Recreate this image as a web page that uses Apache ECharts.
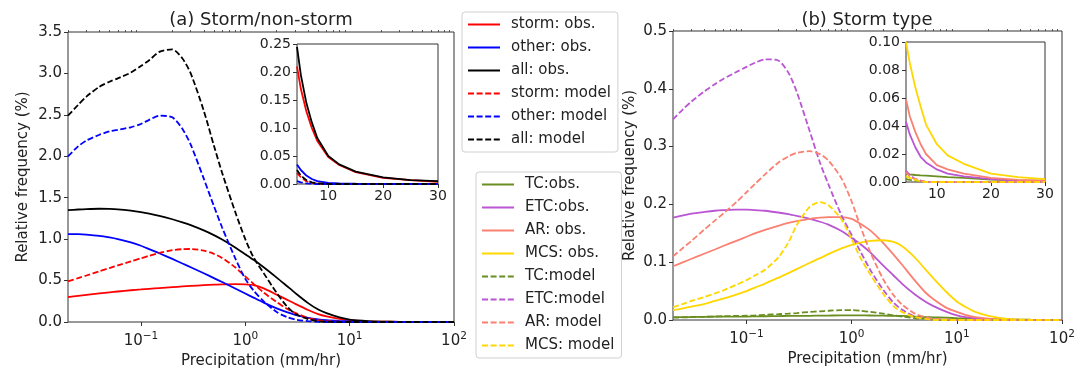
<!DOCTYPE html>
<html><head><meta charset="utf-8">
<script src="https://cdn.jsdelivr.net/npm/echarts@6/dist/echarts.min.js"></script>
<style>html,body{margin:0;padding:0;background:#fff}#c{width:1088px;height:368px}</style>
</head><body><div id="c"></div>
<script>
// ---------- data ----------
const precip = [0.02,0.025,0.03,0.04,0.05,0.06,0.08,0.1,0.12,0.15,0.2,0.25,0.3,0.4,0.5,0.6,0.8,1,1.2,1.5,2,2.5,3,4,5,6,8,10,12,15,20,30,50,100];
// panel (a)
const stormObs   = [0.30,0.315,0.327,0.345,0.358,0.368,0.383,0.393,0.401,0.41,0.421,0.429,0.435,0.444,0.45,0.454,0.457,0.455,0.445,0.405,0.33,0.27,0.22,0.145,0.095,0.068,0.038,0.022,0.014,0.008,0.004,0.002,0.001,0];
const otherObs   = [1.06,1.06,1.055,1.04,1.02,1.00,0.96,0.92,0.88,0.83,0.761,0.706,0.661,0.588,0.530,0.482,0.405,0.344,0.294,0.234,0.164,0.118,0.086,0.05,0.032,0.022,0.012,0.006,0.003,0.001,0,0,0,0];
const allObs     = [1.35,1.358,1.363,1.367,1.365,1.36,1.344,1.327,1.309,1.282,1.24,1.203,1.169,1.105,1.048,0.995,0.90,0.818,0.75,0.66,0.536,0.435,0.352,0.228,0.15,0.106,0.055,0.03,0.018,0.01,0.005,0.002,0.001,0];
const stormModel = [0.49,0.529,0.561,0.612,0.651,0.683,0.732,0.769,0.799,0.834,0.867,0.879,0.881,0.861,0.823,0.773,0.66,0.55,0.46,0.355,0.24,0.16,0.11,0.05,0.022,0.01,0.003,0,0,0,0,0,0,0];
const otherModel = [2.00,2.12,2.19,2.26,2.30,2.32,2.35,2.39,2.44,2.49,2.47,2.33,2.14,1.73,1.40,1.14,0.77,0.52,0.38,0.25,0.12,0.06,0.03,0.01,0.003,0,0,0,0,0,0,0,0,0];
const allModel   = [2.49,2.62,2.72,2.84,2.90,2.94,3.01,3.09,3.16,3.26,3.29,3.18,3.00,2.55,2.13,1.80,1.33,1.00,0.78,0.59,0.35,0.19,0.10,0.035,0.01,0.003,0,0,0,0,0,0,0,0];
// panel (b)
const tcObs    = [0.005,0.005,0.0052,0.0055,0.0057,0.0058,0.006,0.006,0.0062,0.0065,0.0068,0.007,0.007,0.0073,0.0075,0.0077,0.008,0.008,0.008,0.0078,0.0075,0.0072,0.007,0.006,0.005,0.0045,0.004,0.003,0.0025,0.002,0.0015,0.001,0.0005,0];
const etcObs   = [0.177,0.181,0.184,0.187,0.189,0.190,0.191,0.191,0.190,0.189,0.186,0.183,0.180,0.175,0.170,0.165,0.154,0.142,0.132,0.117,0.094,0.077,0.063,0.044,0.032,0.024,0.014,0.008,0.005,0.003,0.0015,0.0005,0,0];
const arObs    = [0.093,0.100,0.106,0.115,0.122,0.128,0.137,0.144,0.150,0.156,0.163,0.168,0.171,0.175,0.177,0.178,0.178,0.175,0.167,0.155,0.133,0.113,0.096,0.068,0.048,0.036,0.021,0.014,0.009,0.005,0.0025,0.001,0,0];
const mcsObs   = [0.017,0.020,0.023,0.028,0.033,0.037,0.044,0.050,0.056,0.063,0.073,0.081,0.088,0.099,0.107,0.114,0.124,0.130,0.134,0.137,0.138,0.135,0.128,0.108,0.088,0.072,0.048,0.032,0.023,0.014,0.007,0.002,0.0005,0];
const tcModel  = [0.004,0.0045,0.005,0.0055,0.006,0.0065,0.007,0.0075,0.008,0.009,0.010,0.011,0.012,0.014,0.015,0.016,0.017,0.017,0.016,0.014,0.011,0.008,0.006,0.003,0.002,0.001,0,0,0,0,0,0,0,0];
const etcModel = [0.347,0.365,0.378,0.396,0.408,0.417,0.429,0.438,0.445,0.451,0.449,0.428,0.395,0.326,0.272,0.235,0.181,0.147,0.120,0.087,0.052,0.030,0.018,0.006,0.002,0.001,0,0,0,0,0,0,0,0];
const arModel  = [0.110,0.125,0.137,0.157,0.172,0.184,0.204,0.221,0.235,0.252,0.272,0.283,0.289,0.292,0.287,0.276,0.245,0.205,0.164,0.118,0.070,0.043,0.027,0.011,0.005,0.002,0.001,0,0,0,0,0,0,0];
const mcsModel = [0.022,0.028,0.033,0.040,0.046,0.051,0.061,0.069,0.077,0.087,0.108,0.134,0.164,0.196,0.204,0.199,0.174,0.140,0.109,0.079,0.045,0.024,0.014,0.005,0.002,0,0,0,0,0,0,0,0,0];
// insets
const precipInset = [4.3,5,6,7,8,10,12,15,20,25,30];
const inStormObs   = [0.21,0.17,0.13,0.10,0.077,0.048,0.034,0.021,0.011,0.007,0.004];
const inOtherObs   = [0.035,0.025,0.015,0.009,0.005,0.002,0.001,0.0005,0.0003,0.0002,0.0001];
const inAllObs     = [0.245,0.195,0.145,0.11,0.082,0.05,0.035,0.022,0.012,0.007,0.005];
const inStormModel = [0.02,0.012,0.005,0.002,0.001,0,0,0,0,0,0];
const inOtherModel = [0.005,0.003,0.001,0.0005,0,0,0,0,0,0,0];
const inAllModel   = [0.025,0.015,0.007,0.003,0.001,0,0,0,0,0,0];
const inTcObs    = [0.006,0.0055,0.005,0.0047,0.0045,0.004,0.0035,0.003,0.0018,0.0012,0.001];
const inEtcObs   = [0.043,0.034,0.025,0.018,0.014,0.009,0.006,0.004,0.002,0.001,0.0005];
const inArObs    = [0.059,0.047,0.036,0.027,0.020,0.012,0.009,0.006,0.003,0.0015,0.001];
const inMcsObs   = [0.100,0.085,0.068,0.054,0.041,0.027,0.019,0.013,0.006,0.0035,0.002];
const inTcModel  = [0.002,0.0015,0.001,0.0005,0,0,0,0,0,0,0];
const inEtcModel = [0.008,0.005,0.002,0.001,0,0,0,0,0,0,0];
const inArModel  = [0.007,0.004,0.002,0.001,0,0,0,0,0,0,0];
const inMcsModel = [0.004,0.003,0.0015,0.0005,0,0,0,0,0,0,0];
// ticks
const logMajor = [0.1,1,10,100];
const logMinor = [0.02,0.03,0.04,0.05,0.06,0.07,0.08,0.09,0.2,0.3,0.4,0.5,0.6,0.7,0.8,0.9,2,3,4,5,6,7,8,9,20,30,40,50,60,70,80,90];
const insetXTicks = [10,20,30];

// ---------- chart ----------
const FONT = 'DejaVu Sans';
const TXT = '#222';
const AX = '#333';
const DASH = [6,2.6];
const chart = echarts.init(document.getElementById('c'), null, {renderer:'canvas'});

function ser(name, xs, ys, color, dashed, xi, yi, smooth){
  return {name, type:'line', xAxisIndex:xi, yAxisIndex:yi, symbol:'none', silent:true,
    smooth: smooth ? 0.25 : false,
    animation:false, z: (xi===2||xi===5) ? 6 : 2,
    data: xs.map((x,i)=>[x, ys[i]]),
    lineStyle:{color, width:1.8, type: dashed ? DASH : 'solid'},
    itemStyle:{color, opacity:0}, emphasis:{disabled:true}};
}
const logFmt = v => { const e = Math.round(Math.log10(v)); return '{b|10}{s|' + (e<0 ? '\u2212'+(-e) : e) + '}'; };
const logRich = {b:{fontSize:15, fontFamily:FONT, color:TXT, lineHeight:20}, s:{fontSize:10.5, fontFamily:FONT, color:TXT, verticalAlign:'top', lineHeight:12}};
function logAxis(gi){
  return {type:'log', gridIndex:gi, min:0.02, max:100, logBase:10,
    axisLine:{show:false}, splitLine:{show:false},
    axisTick:{customValues:logMajor, length:4, lineStyle:{color:AX, width:1}},
    axisLabel:{customValues:logMajor, formatter:logFmt, rich:logRich, margin:9},
    name:'Precipitation (mm/hr)', nameLocation:'middle', nameGap:28,
    nameTextStyle:{fontFamily:FONT, fontSize:15, color:TXT}};
}
function minorAxis(gi){
  return {type:'log', gridIndex:gi, min:0.02, max:100, logBase:10,
    axisLine:{show:false}, splitLine:{show:false}, axisLabel:{show:false},
    axisTick:{customValues:logMinor, length:2, lineStyle:{color:AX, width:0.8}}};
}
function insetX(gi){
  return {type:'value', gridIndex:gi, min:4.3, max:30,
    axisLine:{show:false}, splitLine:{show:false},
    axisTick:{customValues:insetXTicks, length:4, lineStyle:{color:AX}},
    axisLabel:{customValues:insetXTicks, fontFamily:FONT, fontSize:14, color:TXT, margin:5}};
}
function yAx(gi, max, interval, dec, fs, withName, gap){
  const a = {type:'value', gridIndex:gi, min:0, max, interval,
    axisLine:{show:false}, splitLine:{show:false},
    axisTick:{show:true, length:4, lineStyle:{color:AX}},
    axisLabel:{formatter: v => v.toFixed(dec), fontFamily:FONT, fontSize:fs, color:TXT, margin:6}};
  if (withName){ Object.assign(a, {name:'Relative frequency (%)', nameLocation:'middle', nameGap:gap,
    nameTextStyle:{fontFamily:FONT, fontSize:15, color:TXT}}); }
  return a;
}
const gridBase = {show:true, borderColor:AX, borderWidth:1, backgroundColor:'#fff', containLabel:false, outerBoundsMode:'none'};

const RED='#ff0000', BLUE='#0000ff', BLK='#000000';
const TC='#6b8e23', ETC='#ba55d3', AR='#fa8072', MCS='#ffd700';

const series = [
  ser('storm: obs.', precip, stormObs, RED, false, 0, 0, true),
  ser('other: obs.', precip, otherObs, BLUE, false, 0, 0, true),
  ser('all: obs.', precip, allObs, BLK, false, 0, 0, true),
  ser('storm: model', precip, stormModel, RED, true, 0, 0, true),
  ser('other: model', precip, otherModel, BLUE, true, 0, 0, true),
  ser('all: model', precip, allModel, BLK, true, 0, 0, true),
  ser('i-storm-obs', precipInset, inStormObs, RED, false, 2, 1, false),
  ser('i-other-obs', precipInset, inOtherObs, BLUE, false, 2, 1, false),
  ser('i-all-obs', precipInset, inAllObs, BLK, false, 2, 1, false),
  ser('i-storm-model', precipInset, inStormModel, RED, true, 2, 1, false),
  ser('i-other-model', precipInset, inOtherModel, BLUE, true, 2, 1, false),
  ser('i-all-model', precipInset, inAllModel, BLK, true, 2, 1, false),
  ser('TC:obs.', precip, tcObs, TC, false, 3, 2, true),
  ser('ETC:obs.', precip, etcObs, ETC, false, 3, 2, true),
  ser('AR: obs.', precip, arObs, AR, false, 3, 2, true),
  ser('MCS: obs.', precip, mcsObs, MCS, false, 3, 2, true),
  ser('TC:model', precip, tcModel, TC, true, 3, 2, true),
  ser('ETC:model', precip, etcModel, ETC, true, 3, 2, true),
  ser('AR: model', precip, arModel, AR, true, 3, 2, true),
  ser('MCS: model', precip, mcsModel, MCS, true, 3, 2, true),
  ser('i-tc-obs', precipInset, inTcObs, TC, false, 5, 3, false),
  ser('i-etc-obs', precipInset, inEtcObs, ETC, false, 5, 3, false),
  ser('i-ar-obs', precipInset, inArObs, AR, false, 5, 3, false),
  ser('i-mcs-obs', precipInset, inMcsObs, MCS, false, 5, 3, false),
  ser('i-tc-model', precipInset, inTcModel, TC, true, 5, 3, false),
  ser('i-etc-model', precipInset, inEtcModel, ETC, true, 5, 3, false),
  ser('i-ar-model', precipInset, inArModel, AR, true, 5, 3, false),
  ser('i-mcs-model', precipInset, inMcsModel, MCS, true, 5, 3, false)
];

const legendBase = {orient:'vertical', selectedMode:false, itemWidth:32, itemHeight:14, itemGap:8,
  borderColor:'#d0d0d0', borderWidth:1, borderRadius:3, backgroundColor:'#fff',
  itemStyle:{opacity:0},
  textStyle:{fontFamily:FONT, fontSize:15, color:TXT, padding:[0,0,0,6]}};

chart.setOption({
  animation:false,
  backgroundColor:'#fff',
  title:[
    {text:'(a) Storm/non-storm', left:261, top:11, textAlign:'center', padding:0,
     textStyle:{fontFamily:FONT, fontSize:18, fontWeight:'normal', color:TXT}},
    {text:'(b) Storm type', left:867, top:11, textAlign:'center', padding:0,
     textStyle:{fontFamily:FONT, fontSize:18, fontWeight:'normal', color:TXT}}
  ],
  legend:[
    Object.assign({}, legendBase, {left:462, top:12, padding:[5,7,5,5],
      data:['storm: obs.','other: obs.','all: obs.','storm: model','other: model','all: model']}),
    Object.assign({}, legendBase, {left:476, top:172, padding:[5,7,5,5],
      data:['TC:obs.','ETC:obs.','AR: obs.','MCS: obs.','TC:model','ETC:model','AR: model','MCS: model']})
  ],
  grid:[
    Object.assign({}, gridBase, {left:68, top:32, width:386, height:290}),
    Object.assign({}, gridBase, {left:297, top:44, width:141, height:140}),
    Object.assign({}, gridBase, {left:673, top:31, width:389, height:289}),
    Object.assign({}, gridBase, {left:906, top:42, width:139, height:140})
  ],
  xAxis:[ logAxis(0), minorAxis(0), insetX(1), logAxis(2), minorAxis(2), insetX(3) ],
  yAxis:[
    yAx(0, 3.5, 0.5, 1, 15, true, 37),
    yAx(1, 0.25, 0.05, 2, 14, false),
    yAx(2, 0.5, 0.1, 1, 15, true, 35),
    yAx(3, 0.10, 0.02, 2, 14, false)
  ],
  series
});
</script>
</body></html>
